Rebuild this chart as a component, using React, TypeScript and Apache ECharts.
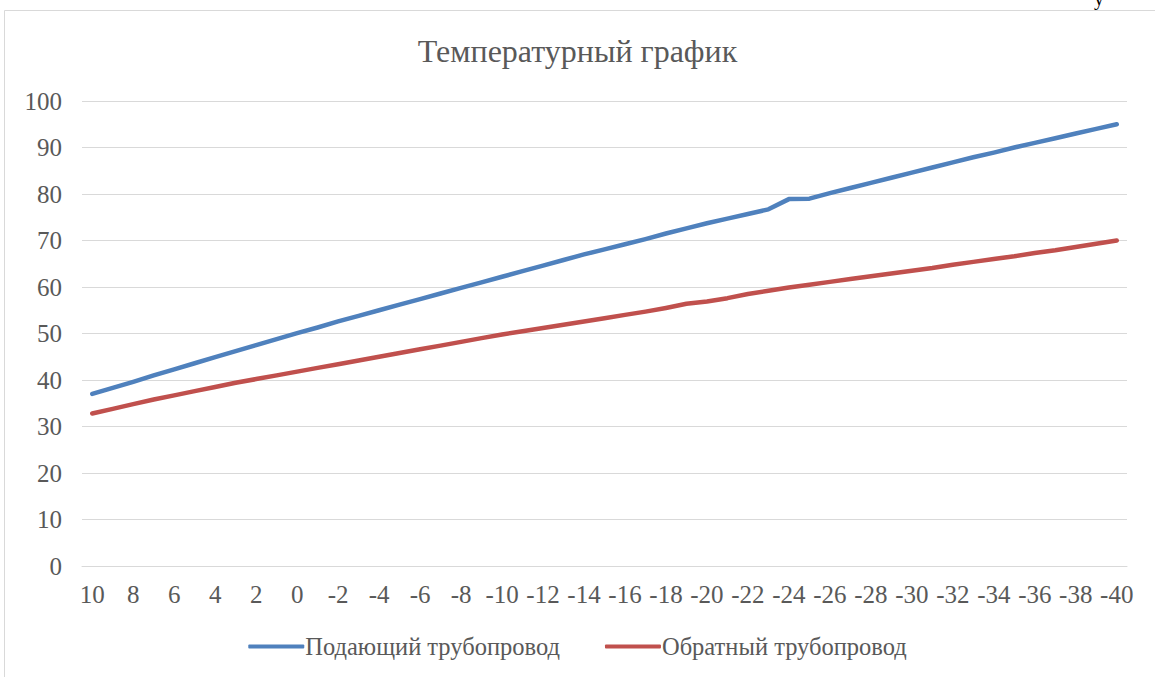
import React, { useEffect, useRef } from "react";
import * as echarts from "echarts";

const categories: string[] = [
  "10", "9", "8", "7", "6", "5", "4", "3", "2", "1", "0",
  "-1", "-2", "-3", "-4", "-5", "-6", "-7", "-8", "-9", "-10",
  "-11", "-12", "-13", "-14", "-15", "-16", "-17", "-18", "-19", "-20",
  "-21", "-22", "-23", "-24", "-25", "-26", "-27", "-28", "-29", "-30",
  "-31", "-32", "-33", "-34", "-35", "-36", "-37", "-38", "-39", "-40",
];

const supplyLine: number[] = [
  37.0, 38.3, 39.6, 41.0, 42.3, 43.6, 44.9, 46.2, 47.5, 48.8, 50.1,
  51.3, 52.6, 53.8, 55.0, 56.2, 57.4, 58.6, 59.8, 61.0, 62.2,
  63.4, 64.6, 65.8, 67.0, 68.1, 69.2, 70.3, 71.5, 72.6, 73.7,
  74.7, 75.7, 76.7, 78.9, 79.0, 80.2, 81.3, 82.4, 83.5, 84.6,
  85.7, 86.8, 87.9, 88.9, 90.0, 91.0, 92.0, 93.0, 94.0, 95.0,
];

const returnLine: number[] = [
  32.8, 33.8, 34.8, 35.8, 36.7, 37.6, 38.5, 39.4, 40.2, 41.0, 41.8,
  42.6, 43.4, 44.2, 45.0, 45.8, 46.6, 47.4, 48.2, 49.0, 49.8,
  50.5, 51.2, 51.9, 52.6, 53.3, 54.0, 54.7, 55.5, 56.4, 56.9,
  57.6, 58.5, 59.2, 59.9, 60.5, 61.1, 61.7, 62.3, 62.9, 63.5,
  64.1, 64.8, 65.4, 66.0, 66.6, 67.3, 67.9, 68.6, 69.3, 70.0,
];

const titleText = "Температурный график";
const seriesNames = ["Подающий трубопровод", "Обратный трубопровод"];

const FONT = "Liberation Serif";
const GRAY = "#595959";

export default function App() {
  const ref = useRef<HTMLDivElement>(null);
  useEffect(() => {
    if (!ref.current) return;
    const chart = echarts.init(ref.current, undefined, { renderer: "svg" });
    chart.setOption({
      animation: false,
      backgroundColor: "#ffffff",
      textStyle: { fontFamily: FONT },
      title: {
        text: titleText,
        left: "center",
        top: 30,
        textStyle: { fontFamily: FONT, fontSize: 32, fontWeight: "normal", color: GRAY },
      },
      graphic: [
        {
          type: "rect",
          shape: { x: 4.5, y: 10.5, width: 1200, height: 700 },
          style: { fill: "none", stroke: "#D9D9D9", lineWidth: 1 },
          silent: true,
        },
        {
          type: "text",
          x: 1094,
          y: -12,
          style: { text: "у", font: "20px Liberation Serif", fill: "#000" },
          silent: true,
        },
      ],
      legend: {
        bottom: 13,
        left: "center",
        itemGap: 45,
        itemWidth: 56,
        itemHeight: 4,
        icon: "roundRect",
        textStyle: { fontFamily: FONT, fontSize: 24.5, color: GRAY, padding: [0, 0, 0, -4] },
        data: seriesNames,
      },
      grid: { left: 82, right: 28, top: 101, bottom: 111, containLabel: false },
      xAxis: {
        type: "category",
        data: categories,
        boundaryGap: true,
        axisLine: { show: true, lineStyle: { color: "#D9D9D9", width: 1 } },
        axisTick: { show: false },
        axisLabel: {
          interval: 1,
          color: GRAY,
          fontFamily: FONT,
          fontSize: 25,
          margin: 16,
        },
      },
      yAxis: {
        type: "value",
        min: 0,
        max: 100,
        interval: 10,
        axisLine: { show: false },
        axisTick: { show: false },
        splitLine: { lineStyle: { color: "#D9D9D9", width: 1 } },
        axisLabel: { color: GRAY, fontFamily: FONT, fontSize: 25, margin: 20 },
      },
      series: [
        {
          name: seriesNames[0],
          type: "line",
          data: supplyLine,
          showSymbol: false,
          symbol: "none",
          lineStyle: { color: "#4F81BD", width: 4.5, cap: "round", join: "round" },
          itemStyle: { color: "#4F81BD" },
        },
        {
          name: seriesNames[1],
          type: "line",
          data: returnLine,
          showSymbol: false,
          symbol: "none",
          lineStyle: { color: "#C0504D", width: 4.5, cap: "round", join: "round" },
          itemStyle: { color: "#C0504D" },
        },
      ],
    });
    return () => chart.dispose();
  }, []);
  return (
    <div
      ref={ref}
      style={{ position: "fixed", left: 0, top: 0, width: 1155, height: 677 }}
    />
  );
}
